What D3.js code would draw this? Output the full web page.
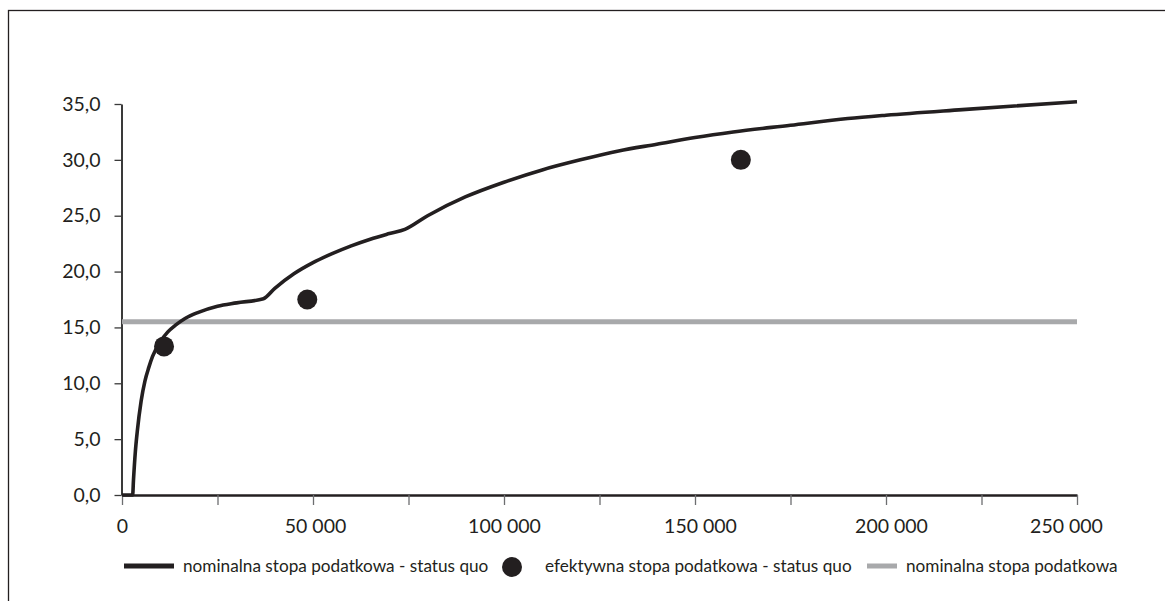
<!DOCTYPE html>
<html>
<head>
<meta charset="utf-8">
<script src="https://cdn.jsdelivr.net/npm/d3@7"></script>
<style>
  html, body { margin: 0; padding: 0; background: #fff; }
  svg { display: block; }
  text { font-family: Lato, "Open Sans", sans-serif; fill: #231f20; }
</style>
</head>
<body>
<svg id="chart" width="1165" height="601"></svg>
<script>
// income (PLN) and average nominal tax rate (%), status quo
const incomeStatusQuo = [0, 2790, 3000, 3500, 4000, 5000, 6000, 7000, 8000, 10000, 12000, 14000, 16500,
  20000, 25000, 30000, 37024, 40000, 45000, 50000, 55000, 60000, 65000, 70000, 74048,
  80000, 90000, 100000, 110000, 120000, 130000, 140000, 150000, 160000, 175000, 190000, 200000, 220000, 250000];
const rateStatusQuo = [0, 0, 1.3, 3.9, 5.7, 8.4, 10.2, 11.4, 12.4, 13.7, 14.6, 15.2, 15.8,
  16.35, 16.9, 17.2, 17.57, 18.5, 19.8, 20.8, 21.6, 22.3, 22.9, 23.4, 23.78,
  25.0, 26.7, 28.0, 29.1, 30.0, 30.8, 31.4, 32.0, 32.5, 33.1, 33.7, 34.0, 34.5, 35.2];
// effective rate points
const incomeEffective = [11000, 48500, 162000];
const rateEffective = [13.3, 17.5, 30.0];
// flat nominal rate
const flatIncome = [0, 250000];
const flatRate = [15.5, 15.5];

const yTicks = [0, 5, 10, 15, 20, 25, 30, 35];
const xTicks = [0, 25000, 50000, 75000, 100000, 125000, 150000, 175000, 200000, 225000, 250000];
const xLabelled = [0, 50000, 100000, 150000, 200000, 250000];
const legendLabels = ["nominalna stopa podatkowa - status quo", "efektywna stopa podatkowa - status quo", "nominalna stopa podatkowa"];

const svg = d3.select("#chart");
const ink = "#231f20", grey = "#a8a9ab";

// outer frame
svg.append("rect").attr("x", 8.5).attr("y", 10.5).attr("width", 1300).attr("height", 700)
  .attr("fill", "none").attr("stroke", ink).attr("stroke-width", 1.3);

const x = d3.scaleLinear().domain([0, 250000]).range([122, 1077]);
const y = d3.scaleLinear().domain([0, 35]).range([495, 104]);

const fmtX = d => d === 0 ? "0" : d3.format(",")(d).replace(/,/g, " ");
const fmtY = d => d.toFixed(1).replace(".", ",");

// y axis
const yAxis = svg.append("g").attr("transform", "translate(121.5,0)")
  .call(d3.axisLeft(y).tickValues(yTicks).tickSize(7).tickSizeOuter(0).tickPadding(14).tickFormat(fmtY));
yAxis.select(".domain").attr("stroke", "#3a3a3a").attr("stroke-width", 2);
yAxis.selectAll(".tick line").attr("stroke", "#3a3a3a").attr("stroke-width", 1.3);
yAxis.selectAll(".tick text").attr("font-size", 19.5).attr("font-family", "Lato, sans-serif").attr("fill", ink);

// x axis
const xAxis = svg.append("g").attr("transform", "translate(0,495)")
  .call(d3.axisBottom(x).tickValues(xTicks).tickSize(10).tickSizeOuter(0).tickPadding(14)
    .tickFormat(d => xLabelled.includes(d) ? fmtX(d) : ""));
xAxis.select(".domain").attr("stroke", ink).attr("stroke-width", 2.6);
xAxis.selectAll(".tick line").attr("stroke", "#6d6e70").attr("stroke-width", 1.3);
xAxis.selectAll(".tick text").attr("font-size", 19.5).attr("font-family", "Lato, sans-serif").attr("fill", ink)
  .attr("dx", d => d === 250000 ? -11 : (d === 200000 || d === 150000 ? 5 : (d === 50000 ? 2 : 0)));

// flat nominal rate line
const flat = flatIncome.map((v, i) => [v, flatRate[i]]);
svg.append("path").datum(flat)
  .attr("d", d3.line().x(d => x(d[0])).y(d => y(d[1])))
  .attr("stroke", grey).attr("stroke-width", 5).attr("fill", "none");

// status quo curve
const sq = incomeStatusQuo.map((v, i) => [v, rateStatusQuo[i]]);
svg.append("path").datum(sq)
  .attr("d", d3.line().x(d => x(d[0])).y(d => y(d[1])).curve(d3.curveMonotoneX))
  .attr("stroke", ink).attr("stroke-width", 3.6).attr("fill", "none").attr("stroke-linejoin", "round");

// effective points
svg.selectAll("circle.eff").data(incomeEffective.map((v, i) => [v, rateEffective[i]]))
  .enter().append("circle").attr("class", "eff")
  .attr("cx", d => x(d[0])).attr("cy", d => y(d[1])).attr("r", 10).attr("fill", ink);

// legend
const lg = svg.append("g").attr("transform", "translate(0,566)");
lg.append("line").attr("x1", 124).attr("x2", 174).attr("y1", 0).attr("y2", 0).attr("stroke", ink).attr("stroke-width", 5);
lg.append("text").attr("x", 183).attr("y", 0).attr("dy", "0.35em").attr("font-size", 17.2).text(legendLabels[0]);
lg.append("circle").attr("cx", 512).attr("cy", 1).attr("r", 10).attr("fill", ink);
lg.append("text").attr("x", 545).attr("y", 0).attr("dy", "0.35em").attr("font-size", 17.2).text(legendLabels[1]);
lg.append("line").attr("x1", 867).attr("x2", 897).attr("y1", 0).attr("y2", 0).attr("stroke", grey).attr("stroke-width", 5);
lg.append("text").attr("x", 906).attr("y", 0).attr("dy", "0.35em").attr("font-size", 17.2).text(legendLabels[2]);
</script>
</body>
</html>
